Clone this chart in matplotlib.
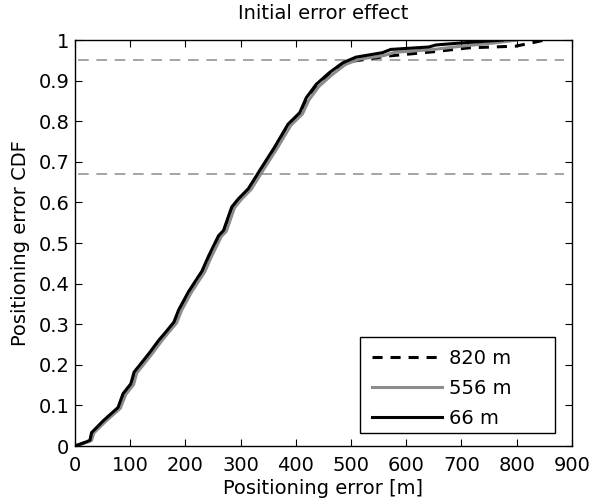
import matplotlib
matplotlib.use("Agg")
import matplotlib.pyplot as plt
from matplotlib.patches import Rectangle

plt.rcParams['font.family'] = ['DejaVu Sans']

# 66 m
x_66 = [0, 10, 20, 27, 30, 51, 78, 87, 101, 107, 134, 152, 164, 179, 188, 206, 230, 242,
        260, 269, 284, 296, 314, 337, 361, 386, 407, 419, 437, 461, 485, 509, 557, 572,
        641, 654, 700, 774]
y_66 = [0, 0.005, 0.01, 0.014, 0.033, 0.062, 0.095, 0.129, 0.153, 0.182, 0.228, 0.261,
        0.28, 0.305, 0.336, 0.381, 0.431, 0.468, 0.518, 0.531, 0.589, 0.609, 0.634, 0.684,
        0.735, 0.793, 0.821, 0.858, 0.891, 0.920, 0.944, 0.958, 0.969, 0.977, 0.983, 0.988,
        0.993, 1.0]

# 556 m
x_556 = [0, 12, 24, 30, 34, 55, 82, 92, 106, 112, 139, 157, 169, 184, 193, 211, 235, 247,
         265, 274, 289, 301, 319, 342, 366, 391, 412, 424, 442, 466, 490, 515, 560, 580,
         650, 700, 760, 800]
y_556 = [0, 0.005, 0.01, 0.014, 0.032, 0.06, 0.093, 0.127, 0.151, 0.18, 0.226, 0.259,
         0.279, 0.303, 0.334, 0.379, 0.429, 0.466, 0.516, 0.529, 0.587, 0.607, 0.632, 0.682,
         0.733, 0.79, 0.818, 0.853, 0.886, 0.915, 0.94, 0.953, 0.962, 0.97, 0.977, 0.985,
         0.993, 1.0]

# 820 m
x_820 = [0, 11, 22, 29, 33, 54, 81, 90, 104, 110, 137, 155, 167, 182, 191, 209, 233, 245,
         263, 272, 287, 299, 317, 340, 364, 389, 410, 422, 440, 464, 488, 503, 569, 647,
         714, 798, 827, 850]
y_820 = [0, 0.005, 0.01, 0.014, 0.032, 0.061, 0.094, 0.128, 0.152, 0.181, 0.227, 0.26,
         0.28, 0.304, 0.335, 0.38, 0.43, 0.467, 0.517, 0.53, 0.588, 0.608, 0.633, 0.683,
         0.734, 0.791, 0.82, 0.855, 0.888, 0.917, 0.94, 0.948, 0.961, 0.971, 0.981, 0.985,
         0.993, 1.0]

ref_levels = [0.67, 0.95]

fig = plt.figure(figsize=(6.0, 5.03), dpi=100)
ax = fig.add_axes([0.125, 0.1133, 0.828, 0.807])

for lvl in ref_levels:
    ax.plot([5, 885], [lvl, lvl], color='#8c8c8c', lw=1.1, dashes=(7, 5))

ax.plot(x_820, y_820, color='black', lw=2.2, dashes=(3.3, 2.6), label='820 m')
ax.plot(x_556, y_556, color='#8c8c8c', lw=2.2, label='556 m')
ax.plot(x_66, y_66, color='black', lw=2.2, label='66 m')

ax.set_xlim(0, 900)
ax.set_ylim(0, 1)
ax.set_xticks(range(0, 901, 100))
ax.set_yticks([i / 10 for i in range(11)])
ax.set_yticklabels(['0', '0.1', '0.2', '0.3', '0.4', '0.5', '0.6', '0.7', '0.8', '0.9', '1'])
ax.tick_params(direction='in', top=True, right=True, length=5, labelsize=14)
ax.tick_params(axis='x', pad=7)
ax.tick_params(axis='y', pad=4)
for s in ax.spines.values():
    s.set_linewidth(1.0)

ax.set_xlabel('Positioning error [m]', fontsize=14, labelpad=3)
ax.set_ylabel('Positioning error CDF', fontsize=14, labelpad=6)
ax.set_title('Initial error effect', fontsize=14, pad=15)

# legend box drawn by hand (MATLAB-style extra room on the right)
ax.add_patch(Rectangle((0.573, 0.033), 0.393, 0.235, transform=ax.transAxes,
                       facecolor='white', edgecolor='black', lw=1.0, zorder=5))
leg = ax.legend(loc='upper left', bbox_to_anchor=(0.597, 0.240), fontsize=14,
                handlelength=3.6, frameon=False, borderpad=0, borderaxespad=0,
                labelspacing=0.58, handletextpad=0.4)
leg.set_zorder(6)

fig.savefig('out.png', dpi=100)
